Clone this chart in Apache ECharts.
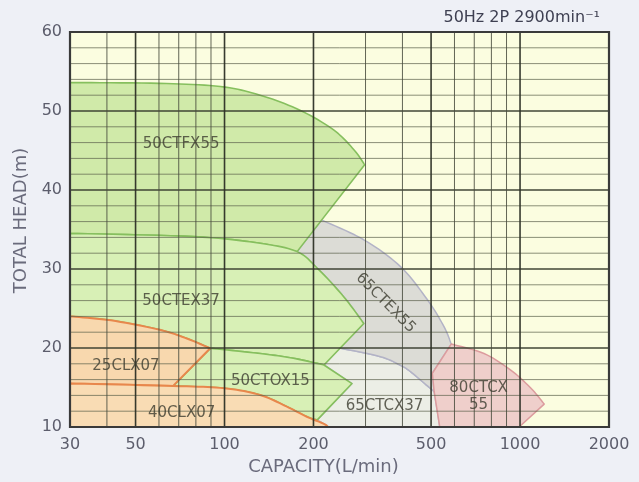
<!DOCTYPE html>
<html><head><meta charset="utf-8">
<script src="https://cdn.jsdelivr.net/npm/echarts@6/dist/echarts.min.js"></script>
<style>html,body{margin:0;padding:0;background:#eef0f6;}#c{width:639px;height:482px;}</style>
</head><body><div id="c"></div>
<script>
// ---- axis / grid values ----
const xLabelValues = [30, 50, 100, 200, 500, 1000, 2000];
const xGridMajor = [50, 100, 200, 500, 1000];
const xGridMinor = [40, 60, 70, 80, 90, 300, 400, 600, 700, 800, 900];
const yGridMajor = [20, 30, 40, 50];
const yGridMinor = [12, 14, 16, 18, 22, 24, 26, 28, 32, 34, 36, 38, 42, 44, 46, 48, 52, 54, 56, 58];
const xRange = [30, 2000];
const yRange = [10, 60];

// ---- regions: list of edges, each edge a list of [capacity L/min, head m] ----
const region50CTFX55 = [
  [[30, 53.6], [60, 53.5], [96.8, 53.1], [132, 52.0], [180, 50.1], [234, 47.6], [274, 45.1], [298, 43.2]],
  [[298, 43.2], [176, 32.2]],
  [[176, 32.2], [132, 33.25], [78.5, 34.1], [30, 34.5]],
  [[30, 34.5], [30, 53.6]]
];
const region50CTEX37 = [
  [[30, 34.5], [78.5, 34.1], [132, 33.25], [176, 32.2], [206, 30.1], [253, 26.5], [296, 23.1]],
  [[296, 23.1], [217, 17.85]],
  [[217, 17.85], [171, 18.7], [132, 19.3], [89.5, 19.96]],
  [[89.5, 19.96], [74.6, 21.2], [60.4, 22.3], [41.3, 23.5], [30, 24.0]],
  [[30, 24.0], [30, 34.5]]
];
const region50CTOX15 = [
  [[89.5, 19.96], [132, 19.3], [171, 18.7], [217, 17.85]],
  [[217, 17.85], [270, 15.5]],
  [[270, 15.5], [206, 10.9]],
  [[206, 10.9], [190, 11.3], [162, 12.6], [132, 14.05], [100, 14.9], [67, 15.2]],
  [[67, 15.2], [89.5, 19.96]]
];
const region25CLX07 = [
  [[30, 24.0], [41.3, 23.5], [60.4, 22.3], [74.6, 21.2], [89.5, 19.96]],
  [[89.5, 19.96], [67, 15.2]],
  [[67, 15.2], [30, 15.5]],
  [[30, 15.5], [30, 24.0]]
];
const region40CLX07 = [
  [[30, 15.5], [67, 15.2], [100, 14.9], [132, 14.05], [162, 12.6], [190, 11.3], [217, 10.4], [224, 10]],
  [[224, 10], [30, 10]],
  [[30, 10], [30, 15.5]]
];
const region65CTEX55 = [
  [[213, 36.2], [296, 33.7], [394, 30.3], [486, 26.1], [553, 22.7], [585, 20.5]],
  [[585, 20.5], [505, 16.8]],
  [[505, 16.8], [512, 14.5]],
  [[512, 14.5], [486, 15.2], [426, 17.0], [394, 17.8], [337, 18.9], [245, 20.0]],
  [[245, 20.0], [296, 23.1]],
  [[296, 23.1], [253, 26.5], [206, 30.1], [176, 32.2]],
  [[176, 32.2], [213, 36.2]]
];
const region65CTCX37 = [
  [[245, 20.0], [337, 18.9], [394, 17.8], [426, 17.0], [486, 15.2], [512, 14.5]],
  [[512, 14.5], [535, 10]],
  [[535, 10], [224, 10]],
  [[224, 10], [217, 10.4], [206, 10.9]],
  [[206, 10.9], [270, 15.5]],
  [[270, 15.5], [217, 17.85]],
  [[217, 17.85], [245, 20.0]]
];
const region80CTCX55 = [
  [[585, 20.5], [755, 19.3], [930, 17.2], [1089, 14.9], [1207, 12.9]],
  [[1207, 12.9], [993, 10]],
  [[993, 10], [535, 10]],
  [[535, 10], [512, 14.5]],
  [[512, 14.5], [505, 16.8]],
  [[505, 16.8], [585, 20.5]]
];

// ---- region labels ----
const labelNames = ['50CTFX55', '50CTEX37', '25CLX07', '50CTOX15', '40CLX07', '65CTCX37', '80CTCX\n55', '65CTEX55'];
const labelQ = [71.3, 71.3, 46.4, 143, 71.6, 348, 724, 351];
const labelH = [45.8, 25.9, 17.7, 15.8, 11.8, 12.6, 13.8, 25.7];
const labelRotate = [0, 0, 0, 0, 0, 0, 0, -45];

// ---- drawing helpers ----
function edgePixels(edge, api) {
  const p = edge.map(d => api.coord(d));
  if (p.length < 3) return p;
  const out = [p[0]];
  for (let i = 0; i < p.length - 1; i++) {
    const p0 = p[i - 1] || p[i], p1 = p[i], p2 = p[i + 1], p3 = p[i + 2] || p[i + 1];
    for (let s = 1; s <= 10; s++) {
      const t = s / 10, t2 = t * t, t3 = t2 * t;
      const f = k => 0.5 * ((2 * p1[k]) + (-p0[k] + p2[k]) * t +
        (2 * p0[k] - 5 * p1[k] + 4 * p2[k] - p3[k]) * t2 +
        (-p0[k] + 3 * p1[k] - 3 * p2[k] + p3[k]) * t3);
      out.push([f(0), f(1)]);
    }
  }
  return out;
}
function regionSeries(name, edges, fill, stroke, lw, z) {
  return {
    type: 'custom', name: name, coordinateSystem: 'cartesian2d', silent: true, z: z,
    data: [edges[0][0]],
    renderItem: function (params, api) {
      let pts = [];
      edges.forEach((e, i) => {
        const px = edgePixels(e, api);
        pts = pts.concat(i === 0 ? px : px.slice(1));
      });
      return { type: 'polygon', shape: { points: pts },
        style: { fill: fill, stroke: stroke, lineWidth: lw, lineJoin: 'round' } };
    }
  };
}
function gridSeries() {
  return {
    type: 'custom', coordinateSystem: 'cartesian2d', silent: true, z: 20,
    data: [[xRange[0], yRange[0]]],
    renderItem: function (params, api) {
      const ch = [];
      const vline = (v, c, w) => {
        const a = api.coord([v, yRange[0]]), b = api.coord([v, yRange[1]]);
        ch.push({ type: 'line', shape: { x1: a[0], y1: a[1], x2: b[0], y2: b[1] }, style: { stroke: c, lineWidth: w } });
      };
      const hline = (v, c, w) => {
        const a = api.coord([xRange[0], v]), b = api.coord([xRange[1], v]);
        ch.push({ type: 'line', shape: { x1: a[0], y1: a[1], x2: b[0], y2: b[1] }, style: { stroke: c, lineWidth: w } });
      };
      yGridMinor.forEach(v => hline(v, 'rgba(90,96,74,0.7)', 1));
      yGridMajor.forEach(v => hline(v, 'rgba(55,60,45,0.95)', 1.6));
      xGridMinor.forEach(v => vline(v, 'rgba(70,74,60,0.85)', 1));
      xGridMajor.forEach(v => vline(v, 'rgba(45,48,38,0.95)', 1.6));
      const tl = api.coord([xRange[0], yRange[1]]), br = api.coord([xRange[1], yRange[0]]);
      ch.push({ type: 'rect', shape: { x: tl[0], y: tl[1], width: br[0] - tl[0], height: br[1] - tl[1] },
        style: { fill: 'none', stroke: '#3a3a3a', lineWidth: 2.2 } });
      return { type: 'group', children: ch };
    }
  };
}

const chart = echarts.init(document.getElementById('c'));
const font = 'DejaVu Sans';
chart.setOption({
  backgroundColor: '#eef0f6',
  animation: false,
  title: {
    text: '50Hz 2P 2900min⁻¹', right: 34, top: 5,
    textStyle: { fontFamily: font, fontSize: 16, color: '#3f4052', fontWeight: 'normal' }
  },
  grid: { left: 70, right: 30, top: 32, bottom: 55, show: true, backgroundColor: '#fbfde0', borderWidth: 0 },
  xAxis: {
    type: 'log', logBase: 10, min: xRange[0], max: xRange[1],
    name: 'CAPACITY(L/min)', nameLocation: 'middle', nameGap: 31,
    nameTextStyle: { fontFamily: font, fontSize: 18, color: '#6a6b7c', padding: [0, 32, 0, 0] },
    axisLine: { show: false }, axisTick: { show: false }, splitLine: { show: false }, minorSplitLine: { show: false },
    axisLabel: { customValues: xLabelValues, formatter: v => String(Math.round(v)),
      fontFamily: font, fontSize: 16, color: '#5c5d6c', margin: 10 }
  },
  yAxis: {
    type: 'value', min: yRange[0], max: yRange[1], interval: 10,
    name: 'TOTAL HEAD(m)', nameLocation: 'middle', nameGap: 40, nameRotate: 90,
    nameTextStyle: { fontFamily: font, fontSize: 18, color: '#6a6b7c', padding: [0, 0, 0, 18] },
    axisLine: { show: false }, axisTick: { show: false }, splitLine: { show: false },
    axisLabel: { fontFamily: font, fontSize: 16, color: '#5c5d6c', margin: 8 }
  },
  series: [
    regionSeries('65CTCX37', region65CTCX37, '#eceee6', '#b6b9cc', 1.5, 2),
    regionSeries('65CTEX55', region65CTEX55, '#dcdcd6', '#b3b3c6', 1.5, 3),
    regionSeries('80CTCX55', region80CTCX55, '#efcfcb', '#dc9c9e', 1.5, 4),
    regionSeries('50CTFX55', region50CTFX55, '#d0eaa9', '#86bf5e', 1.6, 5),
    regionSeries('50CTEX37', region50CTEX37, '#d8f0b6', '#86bf5e', 1.6, 6),
    regionSeries('50CTOX15', region50CTOX15, '#d8f0b6', '#86bf5e', 1.6, 7),
    regionSeries('25CLX07', region25CLX07, '#f8d8ae', '#e8874c', 2, 8),
    regionSeries('40CLX07', region40CLX07, '#f9dcb4', '#e8874c', 2, 9),
    gridSeries(),
    {
      type: 'scatter', silent: true, z: 30, symbolSize: 1, itemStyle: { color: 'rgba(0,0,0,0)' },
      data: labelNames.map((n, i) => ({ name: n, value: [labelQ[i], labelH[i]], label: { rotate: labelRotate[i] } })),
      label: { show: true, position: 'inside', formatter: '{b}', fontFamily: font, fontSize: 15,
        color: '#3c3c30', align: 'center', verticalAlign: 'middle', lineHeight: 17 }
    }
  ]
});
</script></body></html>
